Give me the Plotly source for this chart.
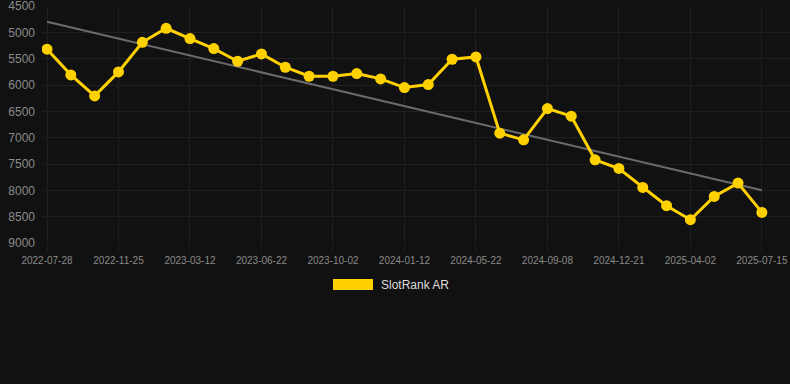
import plotly.graph_objects as go

dates = [
    "2022-07-28", "2022-09-07", "2022-10-16", "2022-11-25", "2022-12-31", "2023-02-05",
    "2023-03-12", "2023-04-15", "2023-05-19", "2023-06-22", "2023-07-26", "2023-08-29",
    "2023-10-02", "2023-11-05", "2023-12-09", "2024-01-12", "2024-02-24", "2024-04-08",
    "2024-05-22", "2024-06-27", "2024-08-02", "2024-09-08", "2024-10-12", "2024-11-16",
    "2024-12-21", "2025-01-24", "2025-02-27", "2025-04-02", "2025-05-06", "2025-06-10",
    "2025-07-15",
]
rank = [
    5320, 5808, 6207, 5751, 5189, 4923, 5119, 5309, 5549, 5410, 5663, 5834,
    5834, 5783, 5884, 6049, 5992, 5511, 5467, 6914, 7041, 6447, 6592, 7420,
    7585, 7945, 8292, 8558, 8116, 7862, 8419,
]
trend_x = [dates[0], dates[-1]]
trend_y = [4800, 8000]
tick_labels = dates[::3]
y_ticks = [4500, 5000, 5500, 6000, 6500, 7000, 7500, 8000, 8500, 9000]
series_name = "SlotRank AR"

YELLOW = "#FFD100"
BG = "#111111"
GRID = "#1f1f1f"

fig = go.Figure()
fig.add_trace(go.Scatter(
    x=trend_x, y=trend_y, mode="lines",
    line=dict(color="#6b6b6b", width=2), showlegend=False, hoverinfo="skip",
))
fig.add_trace(go.Scatter(
    x=dates, y=rank, mode="lines+markers", name=series_name,
    line=dict(color=YELLOW, width=3),
    marker=dict(color=YELLOW, size=11),
    showlegend=False,
))

W, H = 790, 384
L, R, T, B = 42, 0, 6, 141
pw, ph = W - L - R, H - T - B


def px(x):
    return (x - L) / pw


def py(y):
    return (H - B - y) / ph


fig.add_shape(type="rect", xref="paper", yref="paper",
              x0=px(333), x1=px(373), y0=py(290), y1=py(279),
              fillcolor=YELLOW, line=dict(width=0))
fig.add_annotation(xref="paper", yref="paper", x=px(379), y=py(284.5),
                   text=series_name, showarrow=False, xanchor="left", yanchor="middle",
                   font=dict(family="Liberation Sans, Arial", size=12, color="#dddddd"))

fig.update_layout(
    width=W, height=H,
    margin=dict(l=L, r=R, t=T, b=B),
    paper_bgcolor=BG, plot_bgcolor=BG,
    font=dict(family="Liberation Sans, Arial", color="#8a8a8a"),
    showlegend=False,
    xaxis=dict(
        type="category", categoryorder="array", categoryarray=dates,
        range=[-0.21, 31.18],
        tickmode="array", tickvals=tick_labels, ticktext=tick_labels,
        showgrid=True, gridcolor=GRID, gridwidth=1,
        ticks="outside", ticklen=8, tickcolor=GRID,
        tickfont=dict(size=10, color="#8a8a8a"),
        zeroline=False, showline=False, ticklabeloverflow="allow",
    ),
    yaxis=dict(
        range=[9000, 4500], tickvals=y_ticks,
        showgrid=True, gridcolor=GRID, gridwidth=1,
        tickfont=dict(size=12, color="#8a8a8a"),
        zeroline=False, showline=False, ticks="", ticklabelstandoff=6,
        ticklabeloverflow="allow",
    ),
)

fig.write_html(
    "out.html",
    config={"displayModeBar": False},
    post_script="document.body.style.margin='0';document.body.style.background='#111111';",
)
